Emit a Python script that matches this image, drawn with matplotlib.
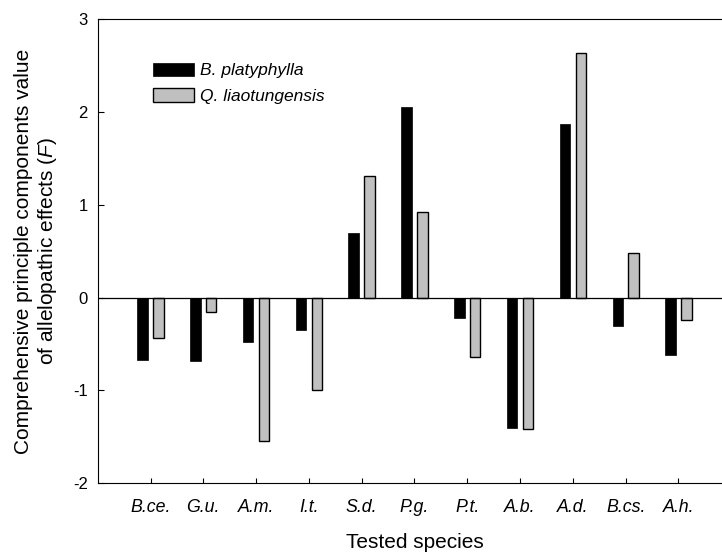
import numpy as np
import matplotlib
matplotlib.use("Agg")
import matplotlib.pyplot as plt

plt.rcParams['font.family'] = ['Liberation Sans', 'DejaVu Sans']
plt.rcParams['mathtext.fontset'] = 'custom'
plt.rcParams['mathtext.rm'] = 'Liberation Sans'
plt.rcParams['mathtext.it'] = 'Liberation Sans:italic'
plt.rcParams['axes.unicode_minus'] = False

# data
species = ['B.ce.', 'G.u.', 'A.m.', 'I.t.', 'S.d.', 'P.g.', 'P.t.', 'A.b.', 'A.d.', 'B.cs.', 'A.h.']
b_platyphylla = [-0.675, -0.68, -0.48, -0.35, 0.70, 2.05, -0.22, -1.40, 1.87, -0.31, -0.62]
q_liaotungensis = [-0.44, -0.15, -1.54, -0.99, 1.31, 0.92, -0.64, -1.415, 2.63, 0.48, -0.245]

fig = plt.figure(figsize=(7.22, 5.54), dpi=100)
# x axis runs 0..12, the right part is cut off by the figure edge as in the original
ax = fig.add_axes([97.7/722, 70.7/554, 633.6/722, 464.3/554])

x = np.arange(1, len(species) + 1)
w = 0.2
ax.bar(x - 0.15, b_platyphylla, w, color='black', edgecolor='black', linewidth=0.5,
       label='B. platyphylla', zorder=2)
ax.bar(x + 0.15, q_liaotungensis, w, color='#c0c0c0', edgecolor='black', linewidth=1.0,
       label='Q. liaotungensis', zorder=2)
ax.axhline(0, color='black', linewidth=0.9, zorder=3)

ax.set_xlim(0, 12)
ax.set_ylim(-2, 3)
ax.set_yticks([-2, -1, 0, 1, 2, 3])
ax.set_xticks(x)
ax.set_xticklabels(species, fontstyle='italic', fontsize=12.8)
ax.tick_params(axis='x', direction='in', length=3.6, width=0.8, pad=11)
ax.tick_params(axis='y', direction='in', length=4, width=0.8, pad=7, labelsize=12)
ax.spines['right'].set_visible(False)
for s in ['left', 'top', 'bottom']:
    ax.spines[s].set_linewidth(0.8)

ax.set_xlabel('Tested species', fontsize=15, labelpad=12.5)
ax.set_ylabel('Comprehensive principle components value\nof allelopathic effects ($\\it{F}$)',
              fontsize=15, labelpad=10, linespacing=1.2)

ax.legend(loc='upper left', bbox_to_anchor=(0.0868, 0.906), frameon=False,
          prop={'style': 'italic', 'size': 12.5}, handlelength=2.4, handleheight=0.83,
          labelspacing=0.55, handletextpad=0.35, borderpad=0, borderaxespad=0)

fig.savefig('out.png', dpi=100)
